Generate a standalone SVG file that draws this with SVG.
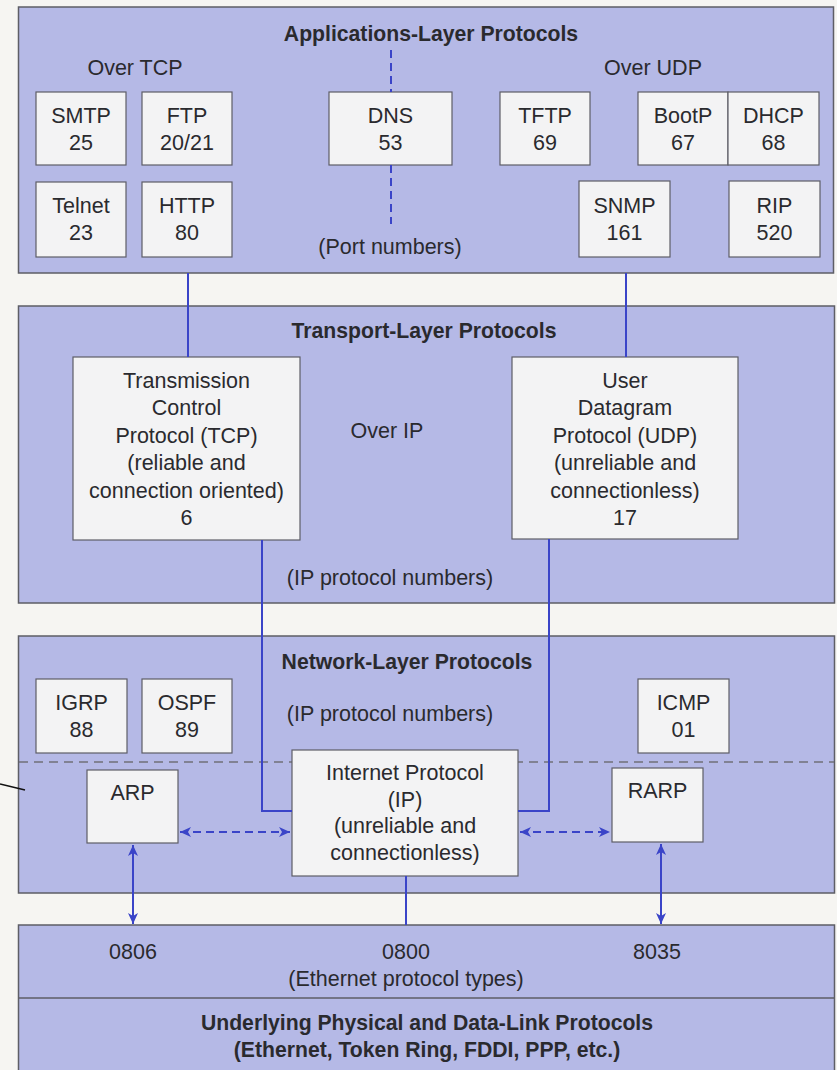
<svg xmlns="http://www.w3.org/2000/svg" width="837" height="1070" viewBox="0 0 837 1070">
<style>
.panel{fill:#b5b9e6;stroke:#5e5e66;stroke-width:1.5}
.box{fill:#f3f3f4;stroke:#5e5e66;stroke-width:1.2}
text{font-family:"Liberation Sans",Arial,sans-serif;font-size:21.5px;fill:#2a2a2e;text-anchor:middle}
.title{font-weight:bold;font-size:21.2px}
.wire{stroke:#3a44c8;stroke-width:2;fill:none}
.dash{stroke:#3a44c8;stroke-width:2;fill:none;stroke-dasharray:8 5}
.gdash{stroke:#707078;stroke-width:1.5;fill:none;stroke-dasharray:9 6}
</style>
<defs>
<marker id="ah" markerUnits="userSpaceOnUse" markerWidth="12" markerHeight="10" refX="11" refY="5" orient="auto-start-reverse">
<path d="M0,0 L11,5 L0,10 L3,5 z" fill="#3a44c8"/>
</marker>
</defs>
<rect x="0" y="0" width="837" height="1070" fill="#f6f5f2"/>

<g id="app-layer">
<rect class="panel" x="18.5" y="7" width="815" height="266"/>
<text class="title" x="431" y="41">Applications-Layer Protocols</text>
<text x="135" y="75">Over TCP</text>
<text x="653" y="75">Over UDP</text>
<text x="390" y="254">(Port numbers)</text>
</g>
<g id="smtp"><rect class="box" x="36" y="92" width="90" height="73"/><text x="81" y="123">SMTP</text><text x="81" y="150">25</text></g>
<g id="ftp"><rect class="box" x="142" y="92" width="90" height="73"/><text x="187" y="123">FTP</text><text x="187" y="150">20/21</text></g>
<g id="telnet"><rect class="box" x="36" y="182" width="90" height="75"/><text x="81" y="213">Telnet</text><text x="81" y="240">23</text></g>
<g id="http"><rect class="box" x="142" y="182" width="90" height="75"/><text x="187" y="213">HTTP</text><text x="187" y="240">80</text></g>
<g id="dns"><rect class="box" x="329" y="92" width="123" height="73"/><text x="390.5" y="123">DNS</text><text x="390.5" y="150">53</text></g>
<g id="tftp"><rect class="box" x="500" y="92" width="90" height="73"/><text x="545" y="123">TFTP</text><text x="545" y="150">69</text></g>
<g id="bootp"><rect class="box" x="638" y="92" width="90" height="73"/><text x="683" y="123">BootP</text><text x="683" y="150">67</text></g>
<g id="dhcp"><rect class="box" x="728" y="92" width="91" height="73"/><text x="773.5" y="123">DHCP</text><text x="773.5" y="150">68</text></g>
<g id="snmp"><rect class="box" x="579" y="181" width="91" height="76"/><text x="624.5" y="213">SNMP</text><text x="624.5" y="240">161</text></g>
<g id="rip"><rect class="box" x="729" y="181" width="91" height="76"/><text x="774.5" y="213">RIP</text><text x="774.5" y="240">520</text></g>

<g id="transport-layer">
<rect class="panel" x="18.5" y="306" width="816" height="297"/>
<text class="title" x="424" y="338">Transport-Layer Protocols</text>
<text x="387" y="438">Over IP</text>
<text x="390" y="585">(IP protocol numbers)</text>
</g>
<g id="tcp"><rect class="box" x="73" y="357" width="227" height="183"/>
<text x="186.5" y="388">Transmission</text><text x="186.5" y="415">Control</text><text x="186.5" y="443">Protocol (TCP)</text><text x="186.5" y="470">(reliable and</text><text x="186.5" y="498">connection oriented)</text><text x="186.5" y="525">6</text></g>
<g id="udp"><rect class="box" x="512" y="357" width="226" height="182"/>
<text x="625" y="388">User</text><text x="625" y="415">Datagram</text><text x="625" y="443">Protocol (UDP)</text><text x="625" y="470">(unreliable and</text><text x="625" y="498">connectionless)</text><text x="625" y="525">17</text></g>

<g id="network-layer">
<rect class="panel" x="18.5" y="636" width="816" height="257"/>
<line class="gdash" x1="19" y1="762" x2="834" y2="762"/>
<text class="title" x="407" y="669">Network-Layer Protocols</text>
<text x="390" y="721">(IP protocol numbers)</text>
</g>
<g id="igrp"><rect class="box" x="36" y="679" width="91" height="74"/><text x="81.5" y="710">IGRP</text><text x="81.5" y="737">88</text></g>
<g id="ospf"><rect class="box" x="142" y="679" width="90" height="74"/><text x="187" y="710">OSPF</text><text x="187" y="737">89</text></g>
<g id="icmp"><rect class="box" x="638" y="679" width="91" height="74"/><text x="683.5" y="710">ICMP</text><text x="683.5" y="737">01</text></g>
<g id="arp"><rect class="box" x="87" y="770" width="91" height="73"/><text x="132.5" y="800">ARP</text></g>
<g id="rarp"><rect class="box" x="612" y="768" width="91" height="74"/><text x="657.5" y="798">RARP</text></g>
<g id="ip"><rect class="box" x="292" y="750" width="226" height="126"/>
<text x="405" y="780">Internet Protocol</text><text x="405" y="807">(IP)</text><text x="405" y="833">(unreliable and</text><text x="405" y="860">connectionless)</text></g>

<g id="datalink-layer">
<rect class="panel" x="18.5" y="925" width="816" height="150"/>
<line x1="19" y1="998" x2="834" y2="998" stroke="#5e5e66" stroke-width="1.5"/>
<text x="133" y="959">0806</text>
<text x="406" y="959">0800</text>
<text x="657" y="959">8035</text>
<text x="406" y="986">(Ethernet protocol types)</text>
<text class="title" x="427" y="1030">Underlying Physical and Data-Link Protocols</text>
<text class="title" x="427" y="1057">(Ethernet, Token Ring, FDDI, PPP, etc.)</text>
</g>

<g id="connectors">
<line class="dash" x1="391" y1="50" x2="391" y2="92" stroke-width="1.6"/>
<line class="dash" x1="391" y1="165" x2="391" y2="224" stroke-width="1.6"/>
<line class="wire" x1="188" y1="273" x2="188" y2="357"/>
<line class="wire" x1="626" y1="273" x2="626" y2="357"/>
<polyline class="wire" points="262,540 262,811 292,811"/>
<polyline class="wire" points="549,539 549,811 518,811"/>
<line class="wire" x1="406" y1="876" x2="406" y2="925"/>
<line class="dash" x1="180" y1="832" x2="290" y2="832" marker-start="url(#ah)" marker-end="url(#ah)"/>
<line class="dash" x1="520" y1="832" x2="610" y2="832" marker-start="url(#ah)" marker-end="url(#ah)"/>
<line class="wire" x1="133" y1="845" x2="133" y2="924" marker-start="url(#ah)" marker-end="url(#ah)"/>
<line class="wire" x1="661" y1="844" x2="661" y2="924" marker-start="url(#ah)" marker-end="url(#ah)"/>
</g>
<line x1="0" y1="784" x2="25" y2="790" stroke="#111" stroke-width="1.6"/>
</svg>
